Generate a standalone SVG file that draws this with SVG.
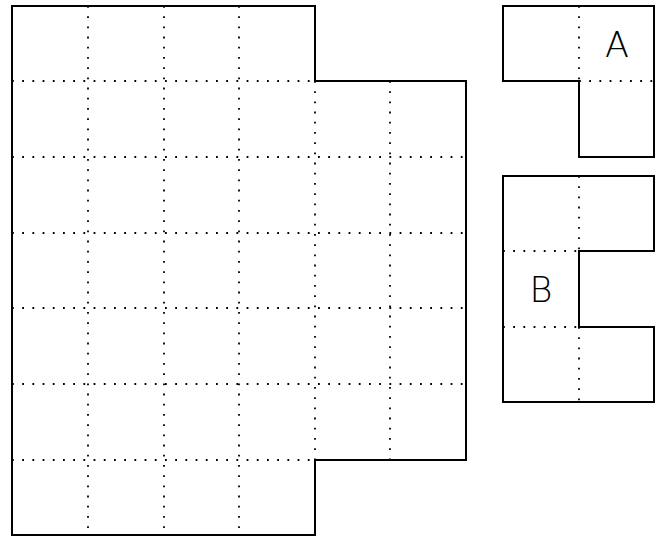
<svg xmlns="http://www.w3.org/2000/svg" width="661" height="536" viewBox="0 0 661 536">
<style>
.dot{stroke:#000;stroke-width:1.8;stroke-dasharray:1.8 8.4;fill:none}
.out{stroke:#000;stroke-width:2;fill:none;stroke-linejoin:miter}
.lbl{font-family:"DejaVu Sans",sans-serif;font-weight:300;font-size:35px;fill:#000;text-anchor:middle}
</style>
<rect width="661" height="536" fill="#fff"/>
<g id="main">
<g class="dot">
<line x1="88" y1="6" x2="88" y2="535"/>
<line x1="164" y1="6" x2="164" y2="535"/>
<line x1="239" y1="6" x2="239" y2="535"/>
<line x1="315" y1="81" x2="315" y2="460"/>
<line x1="390" y1="81" x2="390" y2="460"/>
<line x1="12" y1="81" x2="315" y2="81"/>
<line x1="12" y1="157" x2="466" y2="157"/>
<line x1="12" y1="233" x2="466" y2="233"/>
<line x1="12" y1="308" x2="466" y2="308"/>
<line x1="12" y1="384" x2="466" y2="384"/>
<line x1="12" y1="460" x2="315" y2="460"/>
</g>
<path class="out" d="M12 6H315V81H466V460H315V535H12Z"/>
</g>
<g id="pieceA">
<g class="dot">
<line x1="579" y1="6" x2="579" y2="81"/>
<line x1="579" y1="81" x2="654" y2="81"/>
</g>
<path class="out" d="M503 6H654V157H579V81H503Z"/>
<text class="lbl" x="617" y="57">A</text>
</g>
<g id="pieceB">
<g class="dot">
<line x1="579" y1="176" x2="579" y2="251"/>
<line x1="579" y1="327" x2="579" y2="402"/>
<line x1="503" y1="251" x2="579" y2="251"/>
<line x1="503" y1="327" x2="579" y2="327"/>
</g>
<path class="out" d="M503 176H654V251H579V327H654V402H503Z"/>
<text class="lbl" x="541" y="302">B</text>
</g>
</svg>
